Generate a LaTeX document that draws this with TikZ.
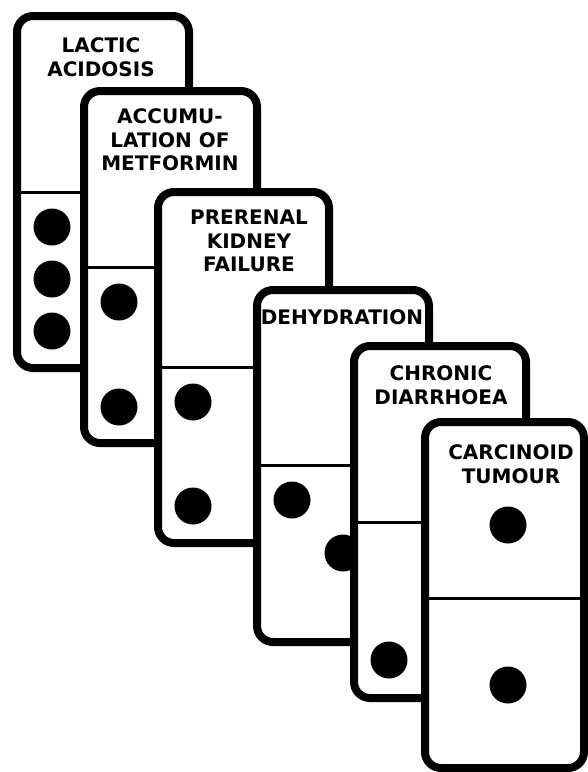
\documentclass[tikz,border=0pt]{standalone}
\usepackage{fontspec}
\setmainfont{DejaVu Sans}
\usepackage{tikz}
\usetikzlibrary{positioning}

\begin{document}
\begin{tikzpicture}[x=1pt, y=-1pt,
    tile/.style={draw=black, line width=8pt, rounded corners=16pt, fill=white},
    split/.style={draw=black, line width=3pt},
    pip/.style={fill=black},
    cause/.style={align=center, font=\fontsize{20}{23.5}\selectfont\bfseries, inner sep=0pt}]
  \useasboundingbox (0,0) rectangle (588,772);

  % Domino 1
  \draw[tile] (17,16) rectangle (189,368);
  \draw[split] (21,192) -- (185,192);
  \fill[pip] (52,227) circle (18.5pt) (52,279) circle (18.5pt) (52,331) circle (18.5pt);
  \node[cause] (lactic) at (101,57) {LACTIC\\ACIDOSIS};

  % Domino 2
  \draw[tile] (84,91) rectangle (257,443);
  \draw[split] (88,267) -- (253,267);
  \fill[pip] (119,302) circle (18.5pt) (119,407) circle (18.5pt);
  \node[cause] (metformin) at (170,140) {ACCUMU-\\LATION OF\\METFORMIN};

  % Domino 3
  \draw[tile] (158,192) rectangle (329,543);
  \draw[split] (162,367) -- (325,367);
  \fill[pip] (193,402) circle (18.5pt) (193,506) circle (18.5pt);
  \node[cause] (kidney) at (249,241) {PRERENAL\\KIDNEY\\FAILURE};

  % Domino 4
  \draw[tile] (257,290) rectangle (429,642);
  \draw[split] (261,465) -- (425,465);
  \fill[pip] (292,500) circle (18.5pt) (343,553) circle (18.5pt);
  \node[cause] (dehydration) at (342,317) {DEHYDRATION};

  % Domino 5
  \draw[tile] (354,346) rectangle (526,698);
  \draw[split] (358,522) -- (522,522);
  \fill[pip] (389,660) circle (18.5pt);
  \node[cause] (diarrhoea) at (441,385) {CHRONIC\\DIARRHOEA};

  % Domino 6
  \draw[tile] (425,422) rectangle (584,768);
  \draw[split] (429,598) -- (580,598);
  \fill[pip] (508,525) circle (18.5pt) (508,685) circle (18.5pt);
  \node[cause] (tumour) at (511,464) {CARCINOID\\TUMOUR};
\end{tikzpicture}
\end{document}
